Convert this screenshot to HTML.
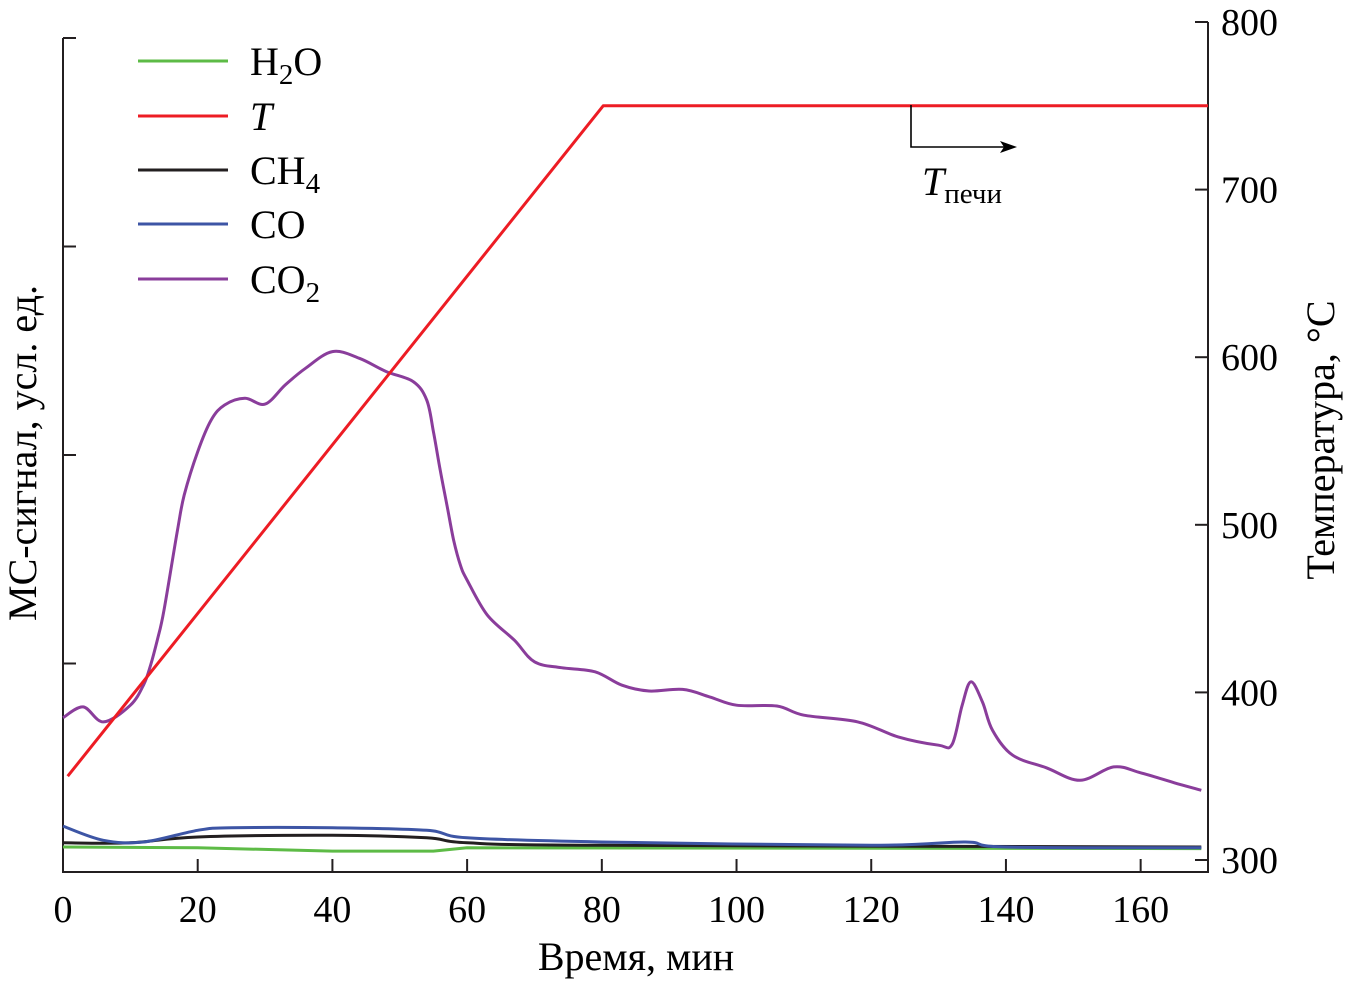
<!DOCTYPE html>
<html><head><meta charset="utf-8"><style>
html,body{margin:0;padding:0;background:#fff;}
svg{display:block;font-family:"Liberation Serif",serif;}
</style></head><body>
<svg id="chart" width="1347" height="982" viewBox="0 0 1347 982">
<g id="axes"></g>
<g id="series"></g>
<g id="legend"></g>
<g>
<path d="M911 105 V147 H1005" fill="none" stroke="#000" stroke-width="1.6"/>
<path d="M1017 147 L1000 141 L1004 147 L1000 153 Z" fill="#000"/>
<text x="922" y="195" font-size="40"><tspan font-style="italic">T</tspan><tspan font-size="29" dy="8">печи</tspan></text>
</g>
<text x="636" y="970" font-size="40" text-anchor="middle">Время, мин</text>
<text transform="translate(36,453) rotate(-90)" font-size="40" text-anchor="middle">МС-сигнал, усл. ед.</text>
<text transform="translate(1334,440) rotate(-90)" font-size="40" text-anchor="middle">Температура, °C</text>
</svg>
<script>
const xTicks=[0,20,40,60,80,100,120,140,160];
const leftTicks=[0,25,50,75,100];
const rightTicks=[300,400,500,600,700,800];
const tT=[0.7,80.2,170];
const tempT=[350,750,750];
const tCO2=[0,3,6,10,12,13,14,15,17,18,20,22,24,27,30,33,36,40,44,48,52,54,55,56,57,58,59,60,63,67,70,74,79,83,87,92,96,100,106,110,118,124,130,132,133.5,134.8,136.5,138,141,146,151,156,160,165,169];
const vCO2=[18.5,19.8,18.0,20.0,22.5,24.8,27.8,31.4,41.0,45.2,50.4,54.2,56.0,56.8,56.1,58.4,60.4,62.4,61.6,60.0,58.8,56.6,52.8,48.2,44.0,39.8,36.8,35.0,30.8,27.8,25.2,24.5,24.0,22.4,21.7,21.9,21.0,20.0,19.9,18.8,18.0,16.2,15.2,15.3,20.0,22.8,20.4,17.0,14.0,12.5,11.0,12.6,11.9,10.7,9.8];
const tCO=[0,6,12,20,25,40,54,60,80,120,134,140,169];
const vCO=[5.5,3.8,3.6,5.0,5.3,5.3,5.0,4.1,3.6,3.2,3.6,3.0,2.9];
const tCH4=[0,10,20,40,54,60,80,169];
const vCH4=[3.5,3.5,4.2,4.4,4.1,3.5,3.2,3.0];
const tH2O=[0,20,40,55,60,169];
const vH2O=[3.0,2.9,2.5,2.5,2.9,2.8];

const NS="http://www.w3.org/2000/svg";
const X0=63,X1=1208,Y0=872;
const xs=t=>X0+t*(X1-X0)/170;
const yl=v=>Y0-v*(872-38)/100;
const yr=v=>860-(v-300)*(860-22)/500;
function mk(tag,attrs,parent){const e=document.createElementNS(NS,tag);for(const k in attrs)e.setAttribute(k,attrs[k]);parent.appendChild(e);return e;}
const ax=document.getElementById('axes');
const ln=mk('path',{d:`M${X0} 38 V${Y0} H${X1} V22`,fill:'none',stroke:'#231f20','stroke-width':2},ax);


xTicks.forEach(v=>{
 const t=mk('line',{x1:xs(v),x2:xs(v),y1:Y0,y2:Y0-13,stroke:'#231f20','stroke-width':2},ax);
 
 
 const l=mk('text',{x:xs(v),y:922,'font-size':38,'text-anchor':'middle'},ax);l.textContent=v;
 
 
});
leftTicks.forEach(v=>{
 const t=mk('line',{x1:X0,x2:X0+13,y1:yl(v),y2:yl(v),stroke:'#231f20','stroke-width':2},ax);
 
 
});
rightTicks.forEach(v=>{
 const t=mk('line',{x1:X1,x2:X1-13,y1:yr(v),y2:yr(v),stroke:'#231f20','stroke-width':2},ax);
 
 
 const l=mk('text',{x:1221,y:yr(v)+13,'font-size':38},ax);l.textContent=v;
 
 
});
const se=document.getElementById('series');
function line(ts,vs,fy,col,name,smooth){
 const P=ts.map((t,i)=>[xs(t),fy(vs[i])]);
 let d='M'+P[0][0].toFixed(1)+' '+P[0][1].toFixed(1);
 for(let i=1;i<P.length;i++){
  if(smooth){
   const p0=P[Math.max(0,i-2)],p1=P[i-1],p2=P[i],p3=P[Math.min(P.length-1,i+1)];
   const c1=[p1[0]+(p2[0]-p0[0])/6,p1[1]+(p2[1]-p0[1])/6],c2=[p2[0]-(p3[0]-p1[0])/6,p2[1]-(p3[1]-p1[1])/6];
   d+=` C${c1[0].toFixed(1)} ${c1[1].toFixed(1)} ${c2[0].toFixed(1)} ${c2[1].toFixed(1)} ${p2[0].toFixed(1)} ${p2[1].toFixed(1)}`;
  } else d+=' L'+P[i][0].toFixed(1)+' '+P[i][1].toFixed(1);
 }
 const p=mk('path',{d:d,fill:'none',stroke:col,'stroke-width':3,'stroke-linejoin':'round'},se);
 
 
}
line(tH2O,vH2O,yl,'#5dbb46','h2o-line',false);
line(tCH4,vCH4,yl,'#231f20','ch4-line',true);
line(tCO,vCO,yl,'#3d55a5','co-line',true);
line(tCO2,vCO2,yl,'#8a3d9b','co2-line',true);
line(tT,tempT,yr,'#ed1c24','temperature-line',false);
const lg=document.getElementById('legend');
const items=[['H','2','O','#5dbb46',false],['T','','','#ed1c24',true],['CH','4','','#231f20',false],['CO','','','#3d55a5',false],['CO','2','','#8a3d9b',false]];
const ly=[61,116,170,224,279];
items.forEach((it,i)=>{
 const g=mk('g',{},lg);
 
 
 mk('line',{x1:138,x2:228,y1:ly[i],y2:ly[i],stroke:it[3],'stroke-width':3},g);
 const t=mk('text',{x:250,y:ly[i]+14,'font-size':40},g);
 if(it[4])t.setAttribute('font-style','italic');
 const a=mk('tspan',{},t);a.textContent=it[0];
 if(it[1]){const b=mk('tspan',{'font-size':29,dy:9},t);b.textContent=it[1];}
 if(it[2]){const c=mk('tspan',{dy:-9},t);c.textContent=it[2];}
});
</script>
</body></html>
